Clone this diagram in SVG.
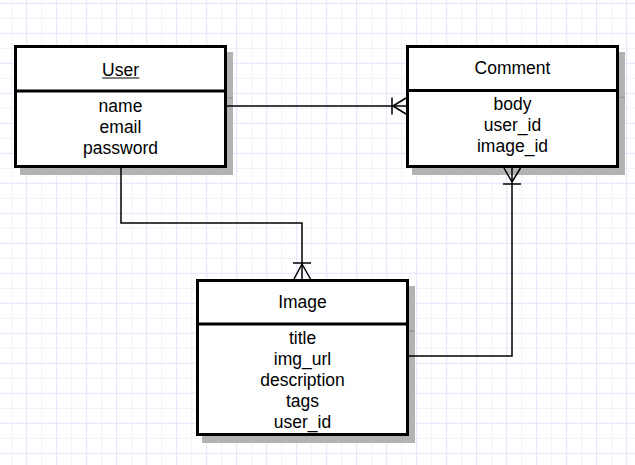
<svg xmlns="http://www.w3.org/2000/svg" width="635" height="465" viewBox="0 0 635 465">
<style>
.box{fill:#fff;stroke:#000;stroke-width:3}
.div{stroke:#000;stroke-width:3}
.sh{fill:#b3b3b3}
.shl{stroke:#9a9a9a;stroke-width:1.5}
.t{font-family:"Liberation Sans",Arial,Helvetica,sans-serif;font-size:17.5px;fill:#000;text-anchor:middle}
.c{fill:none;stroke:#000;stroke-width:1.5}
</style>
<defs>
<pattern id="grid" patternUnits="userSpaceOnUse" x="0" y="0" width="30" height="30">
<line x1="11.7" y1="0" x2="11.7" y2="30" stroke="#f0f0f8" stroke-width="1"/>
<line x1="0" y1="18.3" x2="30" y2="18.3" stroke="#f0f0f8" stroke-width="1"/>
<line x1="26.7" y1="0" x2="26.7" y2="30" stroke="#e4e4fa" stroke-width="1"/>
<line x1="0" y1="3.3" x2="30" y2="3.3" stroke="#e4e4fa" stroke-width="1"/>
</pattern>
</defs>
<rect width="635" height="465" fill="#fff"/>
<rect width="635" height="465" fill="url(#grid)"/>

<g id="user">
<rect class="sh" x="20" y="52" width="213" height="123"/>
<line class="shl" x1="20" y1="98" x2="233" y2="98"/>
<rect class="box" x="15.5" y="46.5" width="210" height="120"/>
<line class="div" x1="15.5" y1="91" x2="225.5" y2="91"/>
<text class="t" x="120.5" y="75.5">User</text>
<line x1="102.3" y1="78" x2="139.3" y2="78" stroke="#000" stroke-width="1.2"/>
<text class="t" x="120.5" y="111.5">name</text>
<text class="t" x="120.5" y="132.5">email</text>
<text class="t" x="120.5" y="153.5">password</text>
</g>

<g id="comment">
<rect class="sh" x="412" y="52" width="213" height="123"/>
<line class="shl" x1="412" y1="97.5" x2="625" y2="97.5"/>
<rect class="box" x="407.5" y="46.5" width="210" height="120"/>
<line class="div" x1="407.5" y1="90.5" x2="617.5" y2="90.5"/>
<text class="t" x="512.5" y="74">Comment</text>
<text class="t" x="512.5" y="110">body</text>
<text class="t" x="512.5" y="131">user_id</text>
<text class="t" x="512.5" y="152">image_id</text>
</g>

<g id="image">
<rect class="sh" x="202" y="286" width="213" height="157"/>
<line class="shl" x1="202" y1="331" x2="415" y2="331"/>
<rect class="box" x="197.5" y="280.5" width="210" height="154"/>
<line class="div" x1="197.5" y1="324" x2="407.5" y2="324"/>
<text class="t" x="302.5" y="307.5">Image</text>
<text class="t" x="302.5" y="343.5">title</text>
<text class="t" x="302.5" y="364.5">img_url</text>
<text class="t" x="302.5" y="385.5">description</text>
<text class="t" x="302.5" y="406.5">tags</text>
<text class="t" x="302.5" y="427.5">user_id</text>
</g>

<g id="connectors">
<!-- User -> Comment -->
<path class="c" d="M227,106 H406"/>
<path class="c" d="M392,97.5 V114.5 M393,106 L406,98 M393,106 L406,114"/>
<!-- User -> Image -->
<path class="c" d="M121,168 V223 H302 V279"/>
<path class="c" d="M293,263 H311 M302,264 L294,279 M302,264 L310.5,279"/>
<!-- Image -> Comment -->
<path class="c" d="M409,356 H512 V168"/>
<path class="c" d="M503,184 H521 M512,182 L504,168 M512,182 L520.5,168"/>
</g>
</svg>
